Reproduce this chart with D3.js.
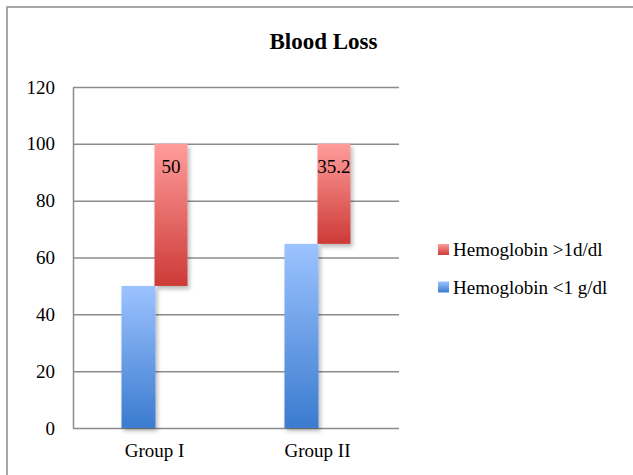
<!DOCTYPE html>
<html>
<head>
<meta charset="utf-8">
<script src="https://cdn.jsdelivr.net/npm/d3@7"></script>
<style>
  html, body { margin: 0; padding: 0; background: #fff; }
  svg { display: block; font-family: "Liberation Serif", "DejaVu Serif", serif; }
</style>
</head>
<body>
<svg id="chart" width="633" height="475"></svg>
<script>
// Blood loss by group: two hemoglobin-drop bands stacked to 100%
const categories = ["Group I", "Group II"];
const hbUnder1 = [50, 64.8];   // Hemoglobin <1 g/dl
const hbOver1 = [50, 35.2];    // Hemoglobin >1d/dl
const yTicks = [0, 20, 40, 60, 80, 100, 120];
const seriesNames = ["Hemoglobin >1d/dl", "Hemoglobin <1 g/dl"];

const svg = d3.select("#chart");
const W = 633, H = 475;
const plot = { left: 73, right: 399, top: 87, bottom: 428 };

const grey = "#8c8c8c";
const fs = 19;

// Outer frame (runs past the right and bottom edges)
svg.append("rect")
  .attr("x", 7).attr("y", 7)
  .attr("width", W).attr("height", H)
  .attr("fill", "#fff").attr("stroke", grey).attr("stroke-width", 1.5);

const defs = svg.append("defs");
function vGrad(id, top, bottom) {
  const g = defs.append("linearGradient").attr("id", id)
    .attr("x1", 0).attr("y1", 0).attr("x2", 0).attr("y2", 1);
  g.append("stop").attr("offset", "0%").attr("stop-color", top);
  g.append("stop").attr("offset", "100%").attr("stop-color", bottom);
}
vGrad("gradRed", "#ff9d9b", "#cc3a37");
vGrad("gradBlue", "#9cc3ff", "#3b7bcf");

const shadow = defs.append("filter").attr("id", "barShadow")
  .attr("x", "-30%").attr("y", "-10%").attr("width", "160%").attr("height", "130%");
shadow.append("feDropShadow")
  .attr("dx", 2).attr("dy", 3).attr("stdDeviation", 2.2)
  .attr("flood-color", "#000").attr("flood-opacity", 0.28);

const y = d3.scaleLinear().domain([0, 120]).range([plot.bottom, plot.top]);
const x = d3.scaleBand().domain(categories).range([plot.left, plot.right]).padding(0);
const xSub = d3.scaleBand().domain(["under", "over"])
  .range([0, x.bandwidth()]).paddingInner(0).paddingOuter(1.47);

// Gridlines, y axis line and tick labels
const yAxis = svg.append("g")
  .attr("transform", `translate(${plot.left},0)`)
  .call(d3.axisLeft(y).tickValues(yTicks).tickFormat(d3.format("d"))
    .tickSizeInner(-(plot.right - plot.left)).tickSizeOuter(0).tickPadding(18));
yAxis.selectAll("line").attr("stroke", grey).attr("stroke-width", 1.5);
yAxis.select(".domain").attr("stroke", grey).attr("stroke-width", 1.5);
yAxis.selectAll("text").attr("font-size", fs).attr("fill", "#000")
  .attr("font-family", "Liberation Serif");

// Category labels
const xAxis = svg.append("g")
  .attr("transform", `translate(0,${plot.bottom})`)
  .call(d3.axisBottom(x).tickSize(0).tickPadding(15.5));
xAxis.select(".domain").remove();
xAxis.selectAll("text").attr("font-size", fs).attr("fill", "#000")
  .attr("font-family", "Liberation Serif");

const rows = categories.map((c, i) => ({ cat: c, under: hbUnder1[i], over: hbOver1[i] }));

const bars = svg.append("g").attr("filter", "url(#barShadow)");
// Lower band (<1 g/dl) from zero
bars.selectAll("rect.under").data(rows).join("rect")
  .attr("class", "under")
  .attr("x", d => x(d.cat) + xSub("under"))
  .attr("width", xSub.bandwidth() + 1)
  .attr("y", d => y(d.under))
  .attr("height", d => y(0) - y(d.under))
  .attr("fill", "url(#gradBlue)");
// Upper band (>1 d/dl) stacked on top of the lower band
bars.selectAll("rect.over").data(rows).join("rect")
  .attr("class", "over")
  .attr("x", d => x(d.cat) + xSub("over"))
  .attr("width", xSub.bandwidth())
  .attr("y", d => y(d.under + d.over))
  .attr("height", d => y(d.under) - y(d.under + d.over))
  .attr("fill", "url(#gradRed)");

// Value labels inside the top of the upper band
svg.append("g").selectAll("text").data(rows).join("text")
  .attr("x", d => x(d.cat) + xSub("over") + xSub.bandwidth() / 2)
  .attr("y", d => y(d.under + d.over) + 29.5)
  .attr("text-anchor", "middle")
  .attr("font-size", fs)
  .attr("fill", "#000")
  .text(d => d.over);

// Title
svg.append("text")
  .attr("x", 323.5).attr("y", 49)
  .attr("text-anchor", "middle")
  .attr("font-size", 23).attr("font-weight", "bold")
  .text("Blood Loss");

// Legend
const legend = svg.append("g").attr("transform", "translate(438,244)");
const legendFills = ["url(#gradRed)", "url(#gradBlue)"];
const li = legend.selectAll("g").data(seriesNames).join("g")
  .attr("transform", (d, i) => `translate(0,${i * 37.5})`);
li.append("rect").attr("width", 11).attr("height", 11)
  .attr("fill", (d, i) => legendFills[i]);
li.append("text").attr("x", 15).attr("y", 5.5).attr("dy", "0.35em")
  .attr("font-size", fs).attr("fill", "#000").text(d => d);
</script>
</body>
</html>
